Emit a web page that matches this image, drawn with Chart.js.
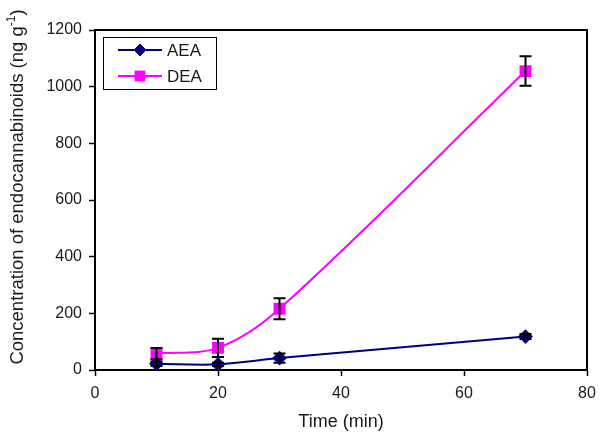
<!DOCTYPE html>
<html>
<head>
<meta charset="utf-8">
<script src="https://cdn.jsdelivr.net/npm/chart.js@4/dist/chart.umd.min.js"></script>
<style>
  html, body { margin: 0; padding: 0; background: #fff; }
  #wrap { width: 600px; height: 436px; position: relative; }
</style>
</head>
<body>
<div id="wrap"><canvas id="c" width="600" height="436"></canvas></div>
<script>
// ---- Data ----
const times = [10, 20, 30, 70];
const aeaValues = [22, 20, 42, 118];
const aeaErrors = [8, 6, 16, 9];
const deaValues = [58, 78, 216, 1055];
const deaErrors = [20, 32, 37, 52];
const seriesLabels = ['AEA', 'DEA'];
const xTicks = [0, 20, 40, 60, 80];
const yTicks = [0, 200, 400, 600, 800, 1000, 1200];
const xTitle = 'Time (min)';
const yTitleMain = 'Concentration of endocannabinoids (ng g';
const yTitleSup = '-1';
const yTitleEnd = ')';

const FONT = '"Liberation Sans", Arial, Helvetica, sans-serif';
const TEXT = '#1a1a1a';

const toPts = (xs, ys) => xs.map((x, i) => ({ x: x, y: ys[i] }));

const errorBars = {
  id: 'errorBars',
  afterDatasetsDraw(chart) {
    const ctx = chart.ctx;
    const ys = chart.scales.y;
    chart.data.datasets.forEach((ds, di) => {
      const meta = chart.getDatasetMeta(di);
      if (!ds.errors) return;
      ctx.save();
      ctx.strokeStyle = '#000';
      ctx.lineWidth = 2;
      meta.data.forEach((pt, i) => {
        const v = ds.data[i].y, e = ds.errors[i];
        const top = ys.getPixelForValue(v + e);
        const bot = ys.getPixelForValue(v - e);
        const x = pt.x;
        ctx.beginPath();
        ctx.moveTo(x, top); ctx.lineTo(x, bot);
        ctx.moveTo(x - 6, top); ctx.lineTo(x + 6, top);
        ctx.moveTo(x - 6, bot); ctx.lineTo(x + 6, bot);
        ctx.stroke();
      });
      ctx.restore();
    });
  }
};

function drawMarker(ctx, style, x, y, r, fill, stroke) {
  ctx.save();
  ctx.fillStyle = fill; ctx.strokeStyle = stroke; ctx.lineWidth = 1;
  ctx.beginPath();
  if (style === 'rectRot') {
    ctx.moveTo(x, y - r); ctx.lineTo(x + r, y); ctx.lineTo(x, y + r); ctx.lineTo(x - r, y);
    ctx.closePath();
  } else {
    const s = r * Math.SQRT1_2;
    ctx.rect(x - s, y - s, 2 * s, 2 * s);
  }
  ctx.fill(); ctx.stroke();
  ctx.restore();
}

const frameAndLegend = {
  id: 'frameAndLegend',
  afterDraw(chart) {
    const ctx = chart.ctx;
    const a = chart.chartArea;
    ctx.save();
    // top and right frame of plot area
    ctx.strokeStyle = '#000';
    ctx.lineWidth = 2;
    ctx.beginPath();
    ctx.moveTo(a.left, a.top); ctx.lineTo(a.right, a.top); ctx.lineTo(a.right, a.bottom);
    ctx.stroke();

    // legend box
    const lx = 103, ly = 37, lw = 113, lh = 52;
    ctx.lineWidth = 1;
    ctx.strokeStyle = '#000';
    ctx.strokeRect(lx + 0.5, ly + 0.5, lw, lh);
    ctx.font = '17px ' + FONT;
    ctx.textBaseline = 'middle';
    ctx.fillStyle = TEXT;
    chart.data.datasets.forEach((ds, i) => {
      const y = ly + 13 + i * 26;
      ctx.strokeStyle = ds.borderColor;
      ctx.lineWidth = 2;
      ctx.beginPath(); ctx.moveTo(118, y); ctx.lineTo(162, y); ctx.stroke();
      drawMarker(ctx, ds.pointStyle, 140, y, ds.pointRadius, ds.pointBackgroundColor, ds.pointBorderColor);
      ctx.fillStyle = TEXT;
      ctx.fillText(ds.label, 167, y + 1);
    });

    // y-axis title with superscript
    ctx.save();
    ctx.translate(18, 187);
    ctx.rotate(-Math.PI / 2);
    ctx.fillStyle = TEXT;
    ctx.textBaseline = 'middle';
    const mainFont = '18.5px ' + FONT, supFont = '12px ' + FONT;
    ctx.font = mainFont; const w1 = ctx.measureText(yTitleMain).width;
    ctx.font = supFont; const w2 = ctx.measureText(yTitleSup).width;
    ctx.font = mainFont; const w3 = ctx.measureText(yTitleEnd).width;
    let x0 = -(w1 + w2 + w3) / 2;
    ctx.font = mainFont; ctx.fillText(yTitleMain, x0, 0);
    ctx.font = supFont; ctx.fillText(yTitleSup, x0 + w1, -6);
    ctx.font = mainFont; ctx.fillText(yTitleEnd, x0 + w1 + w2, 0);
    ctx.restore();

    ctx.restore();
  }
};

new Chart(document.getElementById('c'), {
  type: 'line',
  data: {
    datasets: [
      {
        label: seriesLabels[0],
        data: toPts(times, aeaValues),
        errors: aeaErrors,
        borderColor: '#000080',
        backgroundColor: '#000080',
        pointBackgroundColor: '#000080',
        pointBorderColor: '#000080',
        pointStyle: 'rectRot',
        pointRadius: 6,
        borderWidth: 2,
        tension: 0.35,
        fill: false
      },
      {
        label: seriesLabels[1],
        data: toPts(times, deaValues),
        errors: deaErrors,
        borderColor: '#FF00FF',
        backgroundColor: '#FF00FF',
        pointBackgroundColor: '#FF00FF',
        pointBorderColor: '#FF00FF',
        pointStyle: 'rect',
        pointRadius: 7,
        borderWidth: 2,
        tension: 0.35,
        fill: false
      }
    ]
  },
  options: {
    responsive: false,
    animation: false,
    devicePixelRatio: 1,
    layout: { padding: { top: 30, right: 13, left: 0, bottom: 0 } },
    plugins: { legend: { display: false }, tooltip: { enabled: false } },
    scales: {
      x: {
        type: 'linear',
        min: 0, max: 80,
        afterFit(s) { s.height = 66; s.paddingLeft = 0; s.paddingRight = 0; },
        afterBuildTicks(s) { s.ticks = xTicks.map(v => ({ value: v })); },
        border: { display: true, color: '#000', width: 2 },
        grid: { drawOnChartArea: false, drawTicks: true, tickLength: 6, color: '#000', tickWidth: 1.5 },
        ticks: { color: TEXT, font: { family: FONT, size: 16 }, padding: 8, maxRotation: 0, callback: v => String(v) },
        title: { display: true, text: xTitle, color: TEXT, font: { family: FONT, size: 18 }, padding: { top: 3, bottom: 3 } }
      },
      y: {
        type: 'linear',
        min: 0, max: 1200,
        afterFit(s) { s.width = 95; s.paddingTop = 0; s.paddingBottom = 0; },
        afterBuildTicks(s) { s.ticks = yTicks.map(v => ({ value: v })); },
        border: { display: true, color: '#000', width: 2 },
        grid: { drawOnChartArea: false, drawTicks: true, tickLength: 6, color: '#000', tickWidth: 1.5 },
        ticks: { color: TEXT, font: { family: FONT, size: 16 }, padding: 7, callback: v => String(v) }
      }
    }
  },
  plugins: [errorBars, frameAndLegend]
});
</script>
</body>
</html>
